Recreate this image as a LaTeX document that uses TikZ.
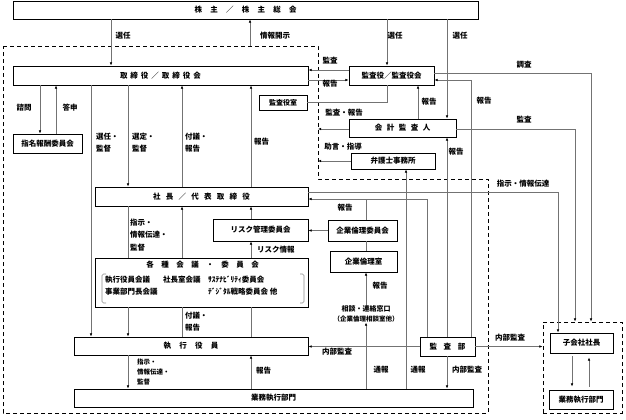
\documentclass[tikz,border=0pt]{standalone}
\usepackage{fontspec}
\setmainfont{Noto Sans CJK JP}
\usetikzlibrary{arrows.meta}
\newcommand{\jsp}[1][1]{\hspace{#1em}}

\begin{document}
\begin{tikzpicture}[x=1pt,y=-1pt,
  box/.style={draw, line width=0.9pt, fill=white, inner sep=0pt, font=\fontsize{7.5}{9}\selectfont\bfseries},
  ln/.style={draw=black!55, line width=0.6pt},
  arr/.style={ln, -{Latex[length=3.2pt,width=2.6pt,color=black]}},
  lbl/.style={inner sep=0pt, font=\fontsize{7.5}{12}\selectfont\bfseries, align=left},
  small/.style={inner sep=0pt, font=\fontsize{6.5}{10}\selectfont\bfseries, align=left},
  grp/.style={draw, line width=0.9pt, dash pattern=on 4pt off 3pt}]

\useasboundingbox (0,0) rectangle (626,420);

% dashed frames
\draw[grp] (3,46) -- (318,46) -- (318,179) -- (488,179) -- (488,413) -- (3,413) -- cycle;
\coordinate (edge) at (318,46);
\coordinate (disclose) at (250,46);
\coordinate (join) at (366,199);
\node[grp, minimum width=79pt, minimum height=91pt] (subgrp) at (582.5,367.5) {};

% boxes
\node[box, minimum width=465pt, minimum height=18pt] (share) at (245.5,10)
  {株\jsp[1.1]主\jsp[1.1]／\jsp[1.1]株\jsp[1.1]主\jsp[1.1]総\jsp[1.1]会};
\node[box, minimum width=295pt, minimum height=19pt] (board) at (160.5,75.5)
  {取\jsp[.4]締\jsp[.4]役\jsp[.4]／\jsp[.4]取\jsp[.4]締\jsp[.4]役\jsp[.4]会};
\node[box, minimum width=85pt, minimum height=19pt] (kansayaku) at (391.5,75.5) {監査役／監査役会};
\node[box, minimum width=48pt, minimum height=15pt, font=\fontsize{7}{9}\selectfont\bfseries] (kansashitsu) at (283,102.5) {監査役室};
\node[box, minimum width=69pt, minimum height=19pt] (nomination) at (47.5,143.5) {指名報酬委員会};
\node[box, minimum width=107pt, minimum height=18pt] (kaikei) at (402.5,128)
  {会\jsp[.6]計\jsp[.6]監\jsp[.6]査\jsp[.6]人};
\node[box, minimum width=84pt, minimum height=16pt] (bengoshi) at (393,161) {弁護士事務所};
\node[box, minimum width=213pt, minimum height=19pt] (shacho) at (201.5,196.5)
  {社\jsp[.7]長\jsp[.7]／\jsp[.7]代\jsp[.7]表\jsp[.7]取\jsp[.7]締\jsp[.7]役};
\node[box, minimum width=95pt, minimum height=22pt] (risk) at (260.5,230) {リスク管理委員会};
\node[box, minimum width=69pt, minimum height=21pt] (ethcomm) at (362.5,230.5) {企業倫理委員会};
\node[box, minimum width=67pt, minimum height=21pt] (ethoffice) at (363.5,261.5) {企業倫理室};
\node[box, minimum width=213pt, minimum height=49pt] (kakushu) at (201.5,282.5) {};
\node[box, minimum width=234pt, minimum height=18pt] (shikko) at (191,346)
  {執\jsp[1.1]行\jsp[1.1]役\jsp[1.1]員};
\node[box, minimum width=55pt, minimum height=19pt] (kansabu) at (447.5,346.5)
  {監\jsp[.9]査\jsp[.9]部};
\node[box, minimum width=399pt, minimum height=18pt] (gyomu) at (273.5,398) {業務執行部門};
\node[box, minimum width=63pt, minimum height=20pt] (subpres) at (581.5,343) {子会社社長};
\node[box, minimum width=64pt, minimum height=19pt] (subops) at (581,399.5) {業務執行部門};

% inside the meetings box
\node[lbl] (kk-title) at (202.5,265) {各\jsp 種\jsp 会\jsp 議\jsp ・\jsp 委\jsp 員\jsp 会};
\node[lbl, anchor=west] (kk-a) at (105,280) {執行役員会議};
\node[lbl, anchor=west] (kk-b) at (163,280) {社長室会議};
\node[lbl, anchor=west] (kk-c) at (208,280) {ｻｽﾃﾅﾋﾞﾘﾃｨ委員会};
\node[lbl, anchor=west] (kk-d) at (105,292) {事業部門長会議};
\node[lbl, anchor=west] (kk-e) at (208,292) {ﾃﾞｼﾞﾀﾙ戦略委員会 他};
\draw[draw=black!45, line width=0.6pt, rounded corners=1.5pt] (106,274) -- (102,274) -- (102,303) -- (106,303);
\draw[draw=black!45, line width=0.6pt, rounded corners=1.5pt] (300,274) -- (304,274) -- (304,303) -- (300,303);

\node[small, align=center] (window) at (366,314) {{\fontsize{7}{10}\selectfont 相談・連絡窓口}\\（企業倫理相談室他）};

% shareholders
\draw[arr] (111,0 |- share.south) -- (111,0 |- board.north);
\draw[arr] (disclose) -- (disclose |- share.south);
\draw[arr] (387,0 |- share.south) -- (387,0 |- kansayaku.north);
\draw[arr] (447,0 |- share.south) -- (447,0 |- kaikei.north);
\node[lbl] (l1) at (123,36) {選任};
\node[lbl] (l2) at (275,36) {情報開示};
\node[lbl] (l3) at (395,36) {選任};
\node[lbl] (l4) at (460,36) {選任};

% audit board
\draw[arr] (kansayaku.west |- 0,70) -- (board.east |- 0,70);
\draw[arr] (board.east |- 0,80) -- (kansayaku.west |- 0,80);
\draw[ln] (kansashitsu.east) -| (387,0 |- kansayaku.south);
\draw[arr] (418,0 |- kaikei.north) -- (418,0 |- kansayaku.south);
\draw[arr] (kansayaku.east |- 0,73) -| (591,0 |- subgrp.north);
\draw[arr] (471,0 |- kansabu.north) |- (kansayaku.east |- 0,80);
\draw[arr] (447,0 |- kansabu.north) -- (447,0 |- kaikei.south);
\draw[arr] (kaikei.east |- 0,129) -| (575,0 |- subgrp.north);
\draw[arr] (kaikei.west |- 0,129) -- (edge |- 0,129);
\draw[arr] (bengoshi.west) -- (edge |- bengoshi.west);
\node[lbl] (l5) at (330,61) {監査};
\node[lbl] (l6) at (330,84) {報告};
\node[lbl] (l7) at (429,102) {報告};
\node[lbl] (l8) at (524,65) {調査};
\node[lbl] (l9) at (484,101) {報告};
\node[lbl] (l10) at (456,152) {報告};
\node[lbl] (l11) at (524,120) {監査};
\node[lbl] (l12) at (344,113) {監査・報告};
\node[lbl] (l13) at (343,147) {助言・指導};

% whistle and ethics
\draw[arr] (406,0 |- gyomu.north) -- (406,0 |- bengoshi.south);
\draw[arr] (366,0 |- gyomu.north) -- (window.south);
\draw[arr] (window.north) -- (window.north |- ethoffice.south);
\draw[ln] (366,0 |- ethcomm.south) -- (366,0 |- ethoffice.north);
\draw[arr] (ethcomm.west) -- (risk.east |- ethcomm.west);
\draw[arr] (427,0 |- kansabu.north) |- (shacho.east |- join);
\draw[ln] (366,0 |- ethcomm.north) -- (join);
\draw[arr] (shacho.east |- 0,192) -| (558,0 |- subpres.north);
\node[lbl] (l14) at (418,370) {通報};
\node[lbl] (l15) at (381,370) {通報};
\node[lbl] (l16) at (380,286) {報告};
\node[lbl] (l17) at (345,208) {報告};
\node[lbl] (l18) at (523,184) {指示・情報伝達};

% internal audit
\draw[arr] (kansabu.west) -- (shikko.east |- kansabu.west);
\draw[arr] (447,0 |- kansabu.south) -- (447,0 |- gyomu.north);
\draw[arr] (kansabu.east) -- (subgrp.west |- kansabu.east);
\draw[arr, shorten <=3pt, shorten >=3pt] (572,0 |- subpres.south) -- (572,0 |- subops.north);
\draw[arr, shorten <=3pt, shorten >=4pt] (589,0 |- subops.north) -- (589,0 |- subpres.south);
\node[lbl] (l19) at (337,352) {内部監査};
\node[lbl] (l20) at (467,370) {内部監査};
\node[lbl] (l21) at (510,338) {内部監査};

% board downwards
\draw[arr] (40,0 |- board.south) -- (40,0 |- nomination.north);
\draw[arr] (56,0 |- nomination.north) -- (56,0 |- board.south);
\draw[arr] (91,0 |- board.south) -- (91,0 |- shikko.north);
\draw[arr] (128,0 |- board.south) -- (128,0 |- shacho.north);
\draw[arr] (182,0 |- shacho.north) -- (182,0 |- board.south);
\draw[arr] (251,0 |- shacho.north) -- (251,0 |- board.south);
\node[lbl] (l22) at (24,108) {諮問};
\node[lbl] (l23) at (70,108) {答申};
\node[lbl, anchor=west] (l24) at (96,143) {選任・\\監督};
\node[lbl, anchor=west] (l25) at (132,143) {選定・\\監督};
\node[lbl, anchor=west] (l26) at (185,143) {付議・\\報告};
\node[lbl, anchor=west] (l27) at (254,142) {報告};

% president downwards
\draw[ln] (128,0 |- shacho.south) -- (128,0 |- kakushu.north);
\draw[arr] (128,0 |- kakushu.south) -- (128,0 |- shikko.north);
\draw[arr] (182,0 |- kakushu.north) -- (182,0 |- shacho.south);
\draw[arr] (251,0 |- risk.north) -- (251,0 |- shacho.south);
\draw[arr] (251,0 |- kakushu.north) -- (251,0 |- risk.south);
\draw[ln] (182,0 |- shikko.north) -- (182,0 |- kakushu.south);
\draw[ln] (251,0 |- shikko.north) -- (251,0 |- kakushu.south);
\node[lbl, anchor=west, font=\fontsize{7.5}{12.5}\selectfont\bfseries] (l28) at (130,235) {指示・\\情報伝達・\\監督};
\node[lbl, anchor=west] (l29) at (257,250) {リスク情報};
\node[lbl, anchor=west] (l30) at (185,322) {付議・\\報告};

% officers downwards
\draw[arr] (128,0 |- shikko.south) -- (128,0 |- gyomu.north);
\draw[arr] (251,0 |- gyomu.north) -- (251,0 |- shikko.south);
\node[small, anchor=west] (l31) at (137,372) {指示・\\情報伝達・\\監督};
\node[lbl, anchor=west] (l32) at (256,371) {報告};
\end{tikzpicture}
\end{document}
